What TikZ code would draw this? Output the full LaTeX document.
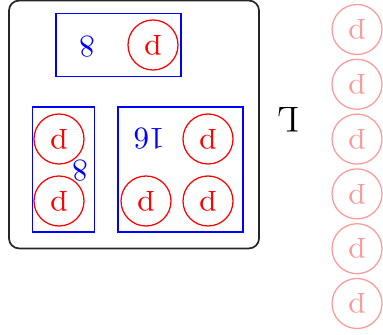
\documentclass[tikz,border=0pt]{standalone}

\begin{document}
\begin{tikzpicture}[
  x=0.32pt, y=-0.32pt,
  tok/.style={draw=red, text=red, circle, minimum size=16pt, inner sep=0pt, rotate=180},
  ghost/.style={tok, draw=red!40, text=red!40},
  grp/.style={draw=blue, inner sep=0pt, rotate=180},
  cnt/.style={text=blue, inner sep=0pt, rotate=180},
  frame/.style={draw=black!85, line width=0.55pt, rounded corners=3.2pt, minimum width=80pt, minimum height=79.3pt}
]
\useasboundingbox (0,0) rectangle (383,334);

\node[frame] (outer) at (134,124.5) {};

% top group
\node[grp, minimum width=40pt, minimum height=20pt] (top) at (118.5,45) {};
\node[tok] (t1) at (153,45) {p};
\node[cnt] (ntop) at (87,46.5) {8};

% left group
\node[grp, minimum width=20pt, minimum height=40pt] (left) at (63.5,169.5) {};
\node[tok] (l1) at (59,139) {p};
\node[tok] (l2) at (59,201) {p};
\node[cnt] (nleft) at (80,171) {8};

% right group
\node[grp, minimum width=40pt, minimum height=40pt] (right) at (180.5,169.5) {};
\node[tok] (r1) at (208,139) {p};
\node[tok] (r2) at (146,201) {p};
\node[tok] (r3) at (208,201) {p};
\node[cnt] (nright) at (149,139) {16};

\node[rotate=180, inner sep=0pt, font=\fontsize{11.5}{13}\selectfont] (lbl) at (288,120) {L};

% faded column
\node[ghost] (g1) at (357,29.5) {p};
\node[ghost] (g2) at (357,84.3) {p};
\node[ghost] (g3) at (357,139.1) {p};
\node[ghost] (g4) at (357,193.9) {p};
\node[ghost] (g5) at (357,248.7) {p};
\node[ghost] (g6) at (357,303.5) {p};

\end{tikzpicture}
\end{document}
